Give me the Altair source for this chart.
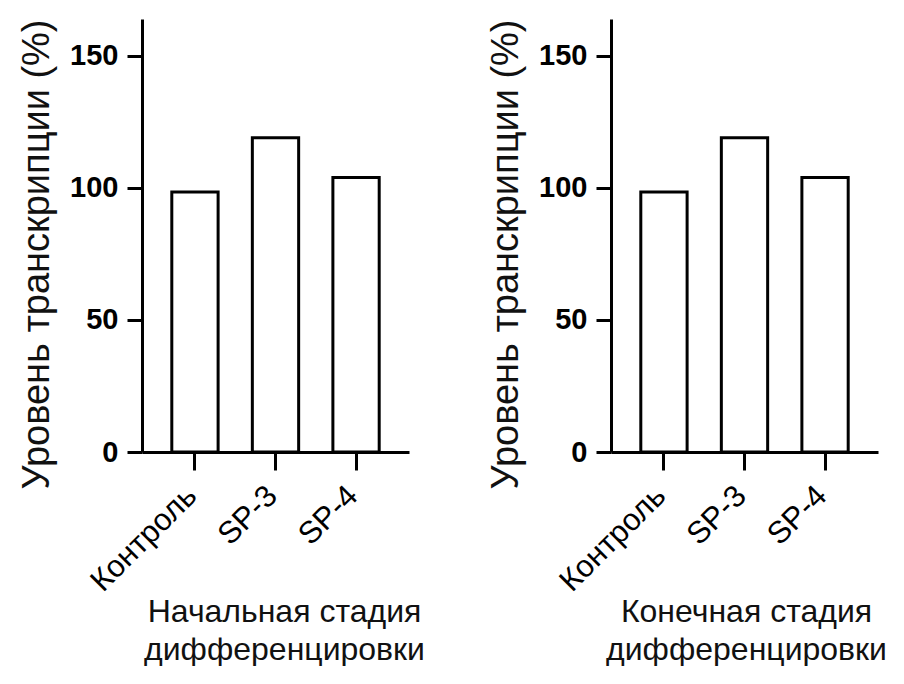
import altair as alt
import pandas as pd

categories = ["Контроль", "SP-3", "SP-4"]
early_values = [98.5, 119, 104]
late_values = [98.5, 119, 104]
y_ticks = [0, 50, 100, 150]
y_title = "Уровень транскрипции (%)"
early_title = ["Начальная стадия", "дифференцировки"]
late_title = ["Конечная стадия", "дифференцировки"]

FONT = "Liberation Sans"


def panel(values, xtitle, title_x):
    df = pd.DataFrame({"cat": categories, "val": values})
    return (
        alt.Chart(df)
        .mark_bar(fill="white", stroke="black", strokeWidth=3)
        .encode(
            x=alt.X(
                "cat:N",
                sort=categories,
                scale=alt.Scale(paddingInner=0.425, paddingOuter=0.37),
                axis=alt.Axis(
                    title=xtitle,
                    labelAngle=315,
                    labelAlign="right",
                    labelBaseline="middle",
                    labelFontSize=31,
                    labelPadding=21,
                    labelOffset=-3,
                    tickSize=18,
                    titleFontSize=32,
                    titleFontWeight="normal",
                    titleLineHeight=38,
                    titlePadding=0,
                    titleX=title_x,
                ),
            ),
            y=alt.Y(
                "val:Q",
                scale=alt.Scale(domain=[0, 164], nice=False),
                axis=alt.Axis(
                    title=y_title,
                    values=y_ticks,
                    tickSize=15,
                    labelFontSize=29,
                    labelFontWeight="bold",
                    labelPadding=9,
                    titleFontSize=38,
                    titleFontWeight="normal",
                    titlePadding=13,
                    titleY=235,
                    grid=False,
                ),
            ),
        )
        .properties(width=267, height=433)
    )


chart = (
    alt.hconcat(
        panel(early_values, early_title, 142),
        panel(late_values, late_title, 135),
        spacing=62,
    )
    .properties(padding={"left": 10, "top": 10, "right": 0, "bottom": 0})
    .configure_view(stroke=None)
    .configure_axis(
        domainColor="black",
        domainWidth=3,
        tickColor="black",
        tickWidth=3,
        labelColor="black",
        titleColor="#111111",
        labelFont=FONT,
        titleFont=FONT,
        grid=False,
    )
)

chart.save("out.html", embed_options={"renderer": "svg", "actions": False})
